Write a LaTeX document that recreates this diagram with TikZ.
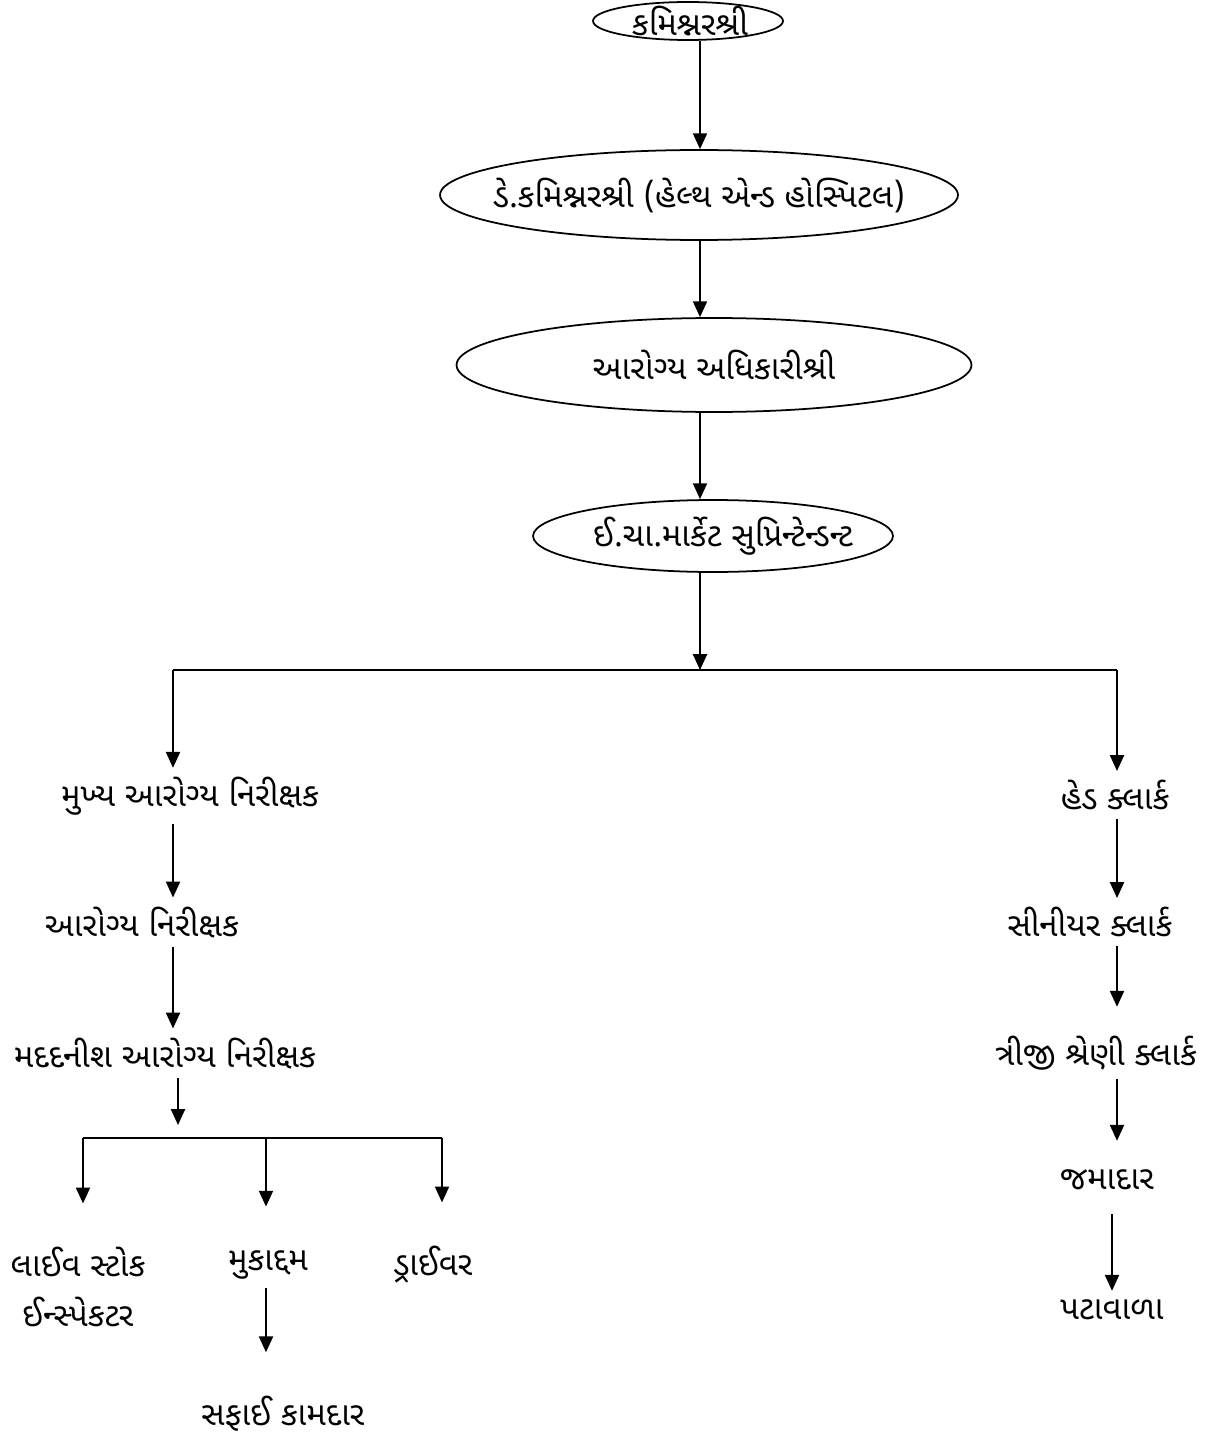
\documentclass[tikz,border=0pt]{standalone}
\usepackage{fontspec}
\newfontfamily\gujfont[Script=Gujarati]{Noto Sans Gujarati UI}
\usetikzlibrary{shapes.geometric,arrows.meta}
\begin{document}
\begin{tikzpicture}[x=0.02cm,y=-0.02cm,
    font=\gujfont\fontsize{18.7}{28}\selectfont,
    post/.style={draw,ellipse,inner sep=0pt},
    lbl/.style={inner sep=5pt,align=center},
    arr/.style={-{Triangle[length=9pt,width=8pt]}}]
  \useasboundingbox (0,0) rectangle (1204,1439);
  \draw[line width=1pt]
    (688,21) node[post,minimum width=3.8cm,minimum height=0.76cm,
      label={[xshift=0.04cm]center:કમિશ્નરશ્રી}] (0){}
    (699,195) node[post,minimum width=10.36cm,minimum height=1.8cm,
      label={center:ડે.કમિશ્નરશ્રી (હેલ્થ એન્ડ હોસ્પિટલ)}] (1){}
    (714,365) node[post,minimum width=10.3cm,minimum height=1.88cm,
      label={center:આરોગ્ય અધિકારીશ્રી}] (2){}
    (713,536) node[post,minimum width=7.2cm,minimum height=1.44cm,
      label={[xshift=0.2cm]center:ઈ.ચા.માર્કેટ સુપ્રિન્ટેન્ડન્ટ}] (3){};
  \path
    (190,796) node[lbl] (4){મુખ્ય આરોગ્ય નિરીક્ષક}
    (142,922) node[lbl] (5){આરોગ્ય નિરીક્ષક}
    (165,1053) node[lbl] (6){મદદનીશ આરોગ્ય નિરીક્ષક}
    (78,1287) node[lbl] (7){લાઈવ સ્ટોક\\ ઈન્સ્પેકટર}
    (268,1265) node[lbl] (8){મુકાદ્દમ}
    (433,1265) node[lbl] (9){ડ્રાઈવર}
    (283,1414) node[lbl] (10){સફાઈ કામદાર}
    (1115,795) node[lbl] (11){હેડ ક્લાર્ક}
    (1090,922) node[lbl] (12){સીનીયર ક્લાર્ક}
    (1096,1053) node[lbl] (13){ત્રીજી શ્રેણી ક્લાર્ક}
    (1107,1180) node[lbl] (14){જમાદાર}
    (1112,1310) node[lbl] (15){પટાવાળા};
  \coordinate (m) at (700,670);
  \coordinate (l) at (173,670);
  \coordinate (r) at (1117,670);
  \coordinate (s) at (178,1138);
  \coordinate (sl) at (83,1138);
  \coordinate (sm) at (266,1138);
  \coordinate (sr) at (442,1138);
  \begin{scope}[line width=1pt]
    \draw[arr] (0.south -| m) -- (1.north -| m);
    \draw[arr] (1.south -| m) -- (2.north -| m);
    \draw[arr] (2.south -| m) -- (3.north -| m);
    \draw[arr] (3.south -| m) -- (m);
    \draw (l) -- (r);
    \draw[arr] (l) -- (4.north -| l);
    \draw[arr] (r) -- (11.north -| r);
    \draw[arr] (4.south -| l) -- (5.north -| l);
    \draw[arr] (5.south -| l) -- (6.north -| l);
    \draw[arr,shorten >=0.26cm] (6.south -| s) -- (s);
    \draw (sl) -- (sr);
    \draw[arr,shorten >=0.7cm] (sl) -- (7.north -| sl);
    \draw[arr,shorten >=0.7cm] (sm) -- (8.north -| sm);
    \draw[arr,shorten >=0.7cm] (sr) -- (9.north -| sr);
    \draw[arr,shorten >=0.7cm] (8.south -| sm) -- (10.north -| sm);
    \draw[arr] (11.south -| r) -- (12.north -| r);
    \draw[arr,shorten >=0.4cm] (12.south -| r) -- (13.north -| r);
    \draw[arr,shorten >=0.4cm] (13.south -| r) -- (14.north -| r);
    \draw[arr,shorten <=0.3cm] (14.south -| 15) -- (15.north);
  \end{scope}
\end{tikzpicture}
\end{document}
